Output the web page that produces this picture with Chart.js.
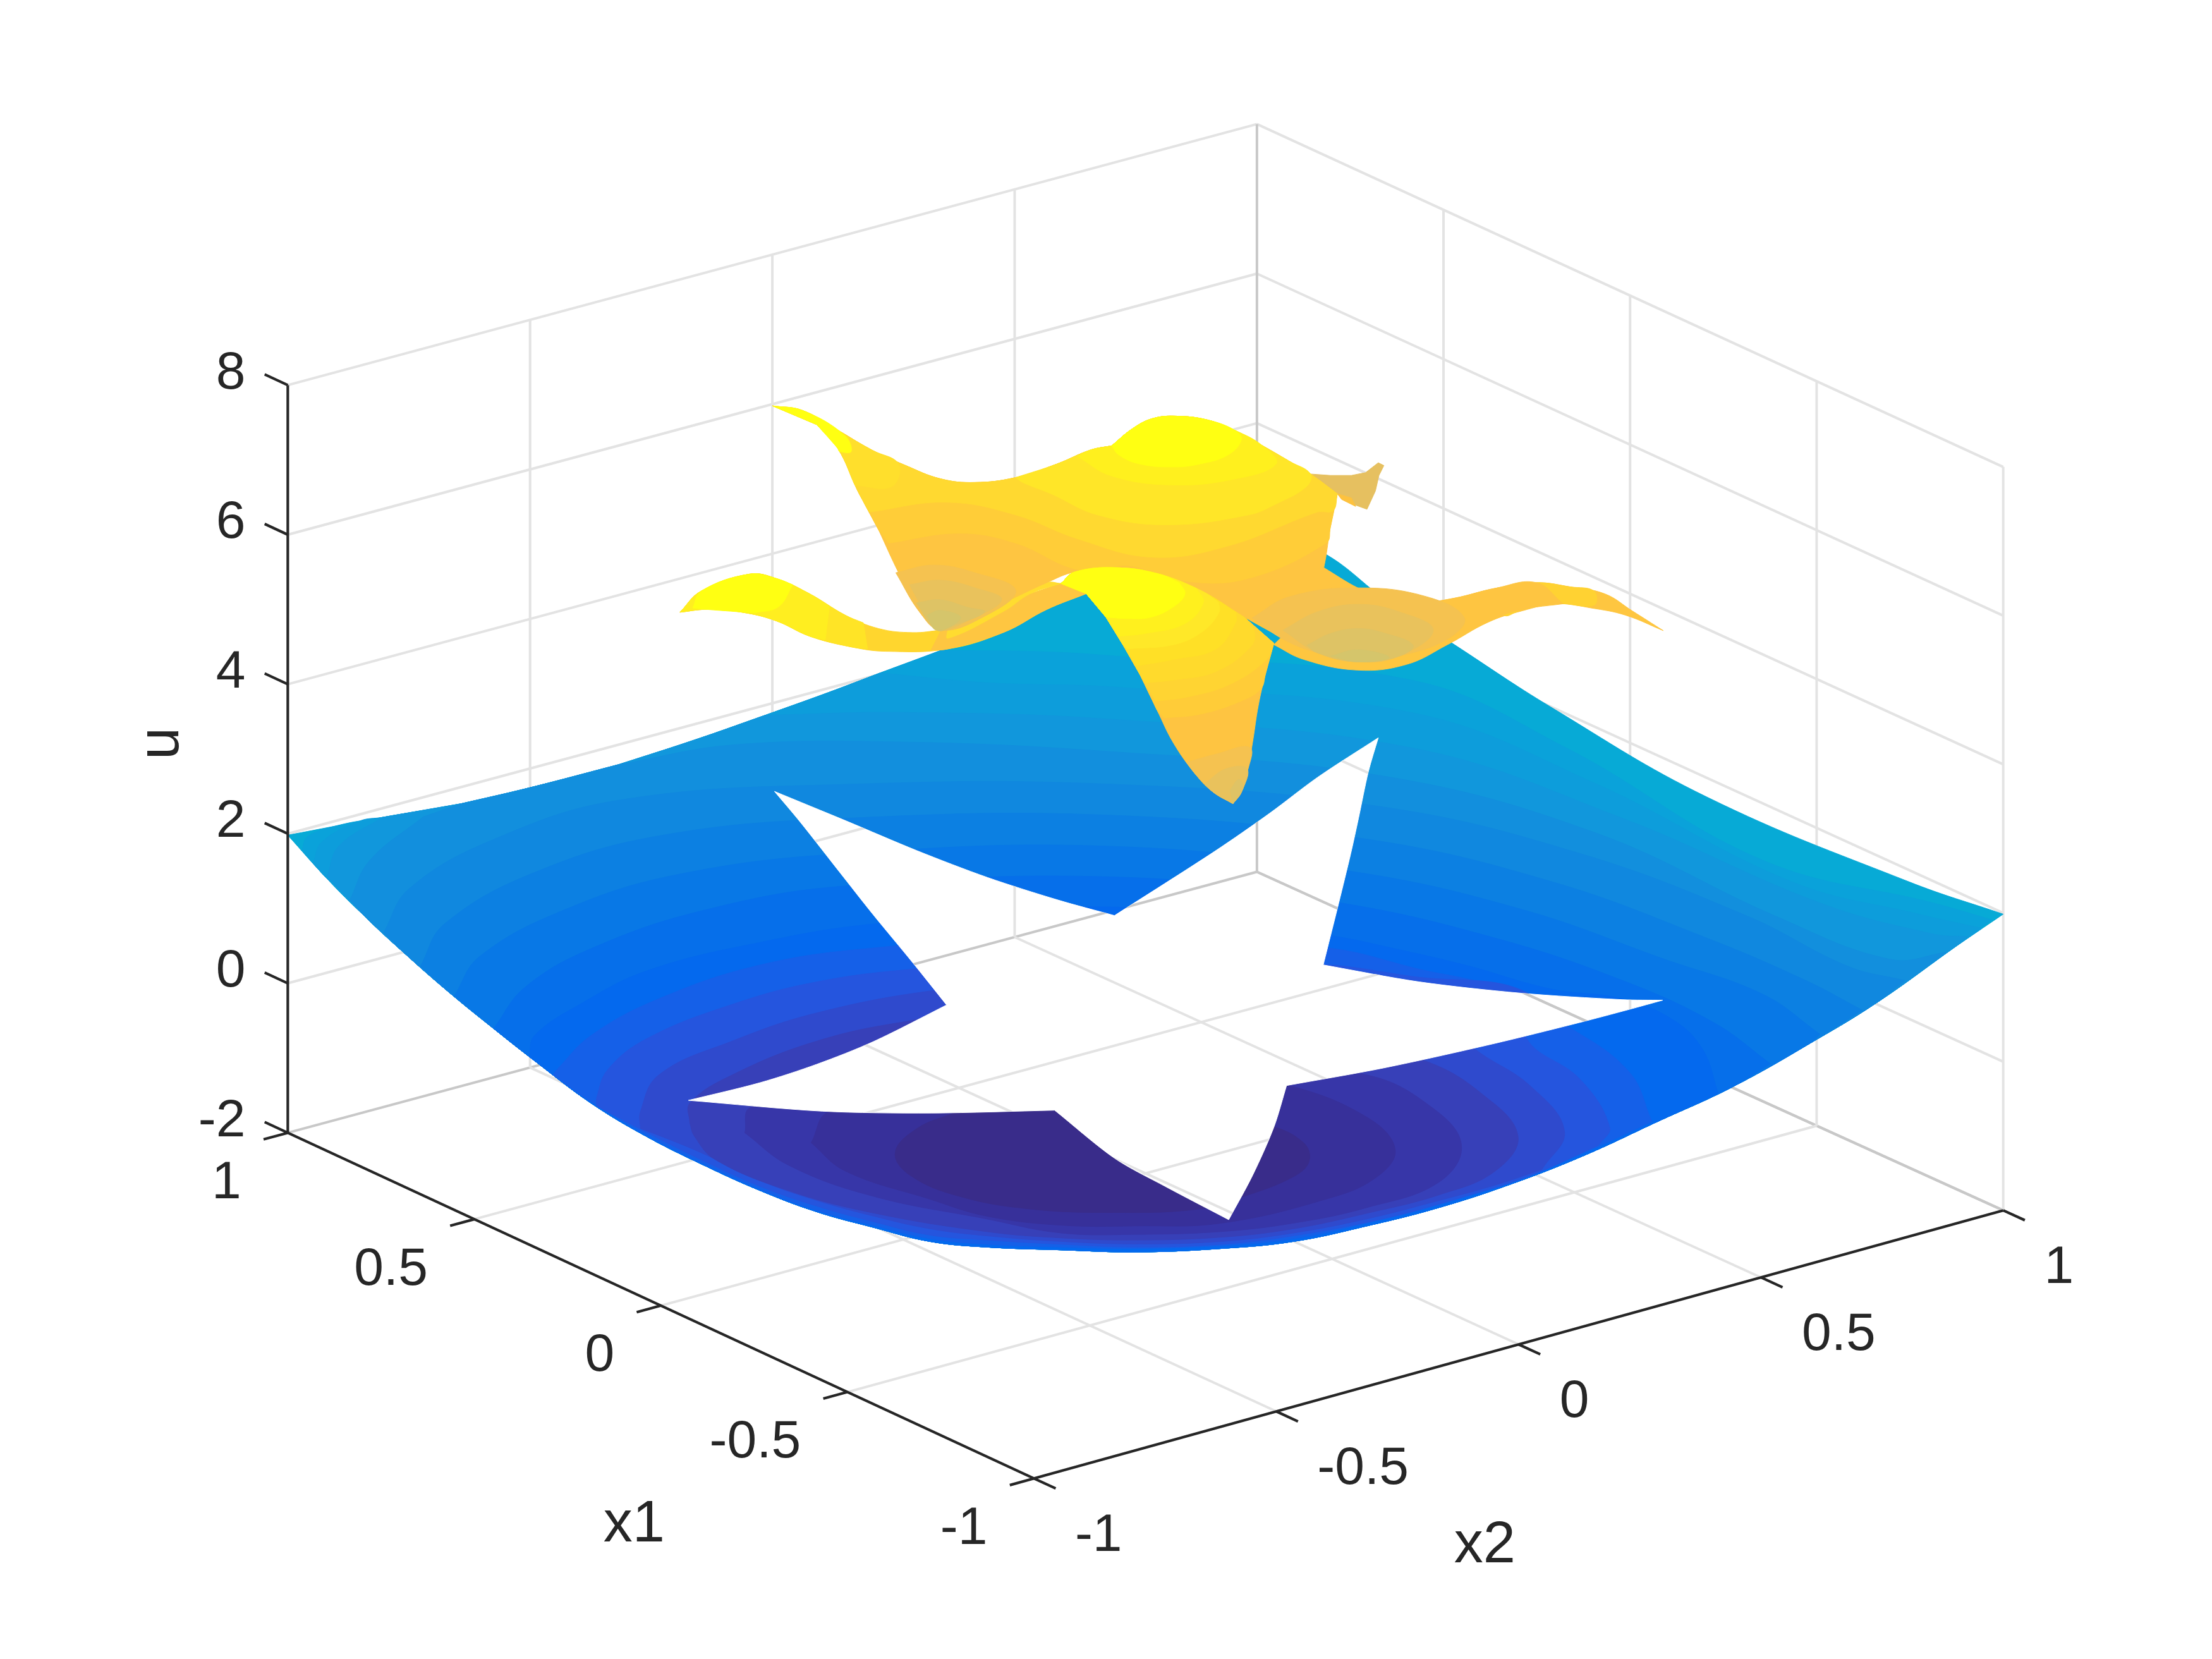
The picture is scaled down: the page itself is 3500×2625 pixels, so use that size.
<!DOCTYPE html>
<html><head><meta charset="utf-8">
<script src="https://cdn.jsdelivr.net/npm/chart.js@4/dist/chart.umd.js"></script>
<style>html,body{margin:0;padding:0;background:#fff}canvas{display:block}</style>
</head><body><canvas id="c" width="3500" height="2625"></canvas>
<script>
// ---------- axis ticks ----------
const x1Ticks=[1,0.5,0,-0.5,-1];
const x2Ticks=[-1,-0.5,0,0.5,1];
const uTicks=[-2,0,2,4,6,8];
const x1TickLabels=['1','0.5','0','-0.5','-1'];
const x2TickLabels=['-1','-0.5','0','0.5','1'];
const uTickLabels=['-2','0','2','4','6','8'];

// ---------- lower surface in the view plane ----------
const lowerRim=[[204,592],[231,622],[259,650],[287,676],[319,704],[351,730],[379,752],[419,782],[459,806],[499,826],[539,844],[579,859],[619,870],[659,880],[699,884],[752,886],[806,887.5],[866,885],[917,880],[969,869],[1020,856],[1072,839],[1123,819],[1175,795],[1227,771],[1284,739],[1330,711],[1382,674],[1420,648]];
const lowerBackEdge=[[1353,625],[1210,565],[1099,501],[1031,457],[982,425],[940,393],[880,365],[768,420],[667,461],[624,477],[587,491],[542.5,507],[494,524],[438.5,542],[375,558.5],[327,569.7],[271,579.4]];
const lowerOuterArcs=[
 [[214,603],[218,593],[240,585],[271,579.4],[327,569.7],[375,558.5],[438.5,542],[494,524],[542.5,507],[587,491],[624,477],[667,461],[740,462],[790,465],[1000,482],[1110,530],[1250,610],[1370,640],[1412,652]],
 [[222,612],[228,597],[255,582],[271,579.4],[327,569.7],[375,558.5],[438.5,542],[494,524],[542.5,507],[587,491],[624,477],[700,484],[790,487],[1000,505],[1130,555],[1270,625],[1360,648],[1405,658]],
 [[232,621],[240,600],[271,579.4],[327,569.7],[375,558.5],[438.5,542],[494,524],[542.5,507],[640,505],[790,510],[1000,530],[1150,580],[1290,640],[1370,662],[1395,664]],
 [[248,638],[262,610],[300,579],[327,569.7],[375,558.5],[438.5,542],[520,528],[640,526],[790,533],[980,550],[1130,590],[1260,650],[1340,680],[1380,675]],
 [[272,661],[290,630],[350,595],[440,567],[600,556],[790,556],[980,572],[1120,605],[1240,650],[1310,685],[1350,695]],
 [[298,685],[315,655],[380,618],[470,592],[600,580],[790,578],[970,595],[1100,625],[1210,665],[1280,695],[1320,716]],
 [[322,706],[340,678],[400,645],[480,620],[600,605],[790,600],[960,618],[1080,645],[1180,680],[1250,705],[1290,733]],
 [[350,729],[372,700],[420,672],[500,645],[600,628],[800,622],[950,640],[1060,665],[1150,695],[1215,725],[1255,754]],
 [[375,749],[379,734],[411,712],[459,688],[539,668],[619,655],[790,643],[942,663],[991,673],[1042,685],[1099,701],[1150,708],[1186,723],[1207,744],[1218,775]]
];
const lowerOuterColors=['#0aa2da','#0d9ddb','#1197dc','#128fdd','#1088df','#0c80e2','#0878e6','#066fea','#0469ee'];
const lowerOuterCorners=[[271,579.4],[667,461],[624,477],[542.5,507],[438.5,542],[300,579],[327,569.7]];
const lowerInnerRings=[
 [[392,762],[395,758],[419,734],[467,708],[539,684],[619,672],[790,660],[942,672],[1006,687],[1060,700],[1112,728],[1155,760],[1171,795],[1123,817],[1072,837],[1020,854],[969,867],[917,878],[866,883],[806,885],[752,884],[699,882],[659,878],[619,868.5],[579,858],[539,843],[499,825],[459,805],[419,781]],
 [[423,784],[423,778],[431,758],[459,736],[519,712],[579,696],[647,687],[790,677],[942,684],[1000,692],[1083,704],[1082,736],[1120,765],[1141,799],[1133,812],[1083,834],[1032,850],[980,864],[917,876],[866,882],[806,884],[752,882],[699,879],[659,875.5],[619,866],[579,855],[539,841],[499,823],[459,803]],
 [[454,800],[454,788],[467,762],[519,738],[579,718],[663,702],[790,690],[900,690],[1000,705],[1046,744],[1085,770],[1109,802],[1093,829],[1060,840],[1020,851],[969,864],[917,874],[866,880],[806,881.8],[752,880],[699,876],[659,871],[619,862],[579,851],[539,837],[499,818],[470,806]],
 [[489,796],[489,782],[519,762],[579,738],[643,724],[750,710],[900,720],[1010,752],[1050,775],[1076,805],[1060,830],[1020,847],[969,860],[917,871],[866,877],[806,879],[752,877.5],[699,873],[620,860],[559,844],[507,822],[492,805]],
 [[528,803],[532,785],[600,770],[760,760],[900,760],[969,762],[1015,785],[1036,812],[1020,838],[969,856],[917,867],[866,873],[806,875],[752,874],[699,864],[619,848],[559,826]],
 [[575,810],[588,788],[700,770],[850,760],[912,769],[969,792],[989,815],[975,835],[940,850],[866,867],[806,869],[752,868.5],[699,862],[659,850],[599,830]],
 [[676,789],[650,800],[634.6,817],[645,833],[680,848],[730,857],[789,859.5],[850,857],[882,848],[917,834],[928,823],[924,810],[900,798],[850,790],[760,780]]
];
const lowerInnerColors=['#1560e8','#2555de','#2f4acd','#3740b8','#3736a8','#37309a','#392c8a'];
const lowerInnerCorners=[[392,762],[1171,795],[423,784],[1133,812],[454,800],[1093,829]];
const starHole=[[549,561],[600,582],[650,603],[700,622],[750,638],[790,649],[861,603.5],[900,576.5],[934,551],[977,523],[970,547],[963,580],[957.5,605],[949,640],[941,672],[938,684],[1006,696],[1078,704],[1150,708.6],[1178.6,709],[1155,715.5],[1119,725],[1058,740],[981,757],[912,769.5],[903,799],[888,833],[871,864.6],[826,841],[790,821],[747.6,787],[660,789],[583,787.7],[488,780],[539,767.4],[579,754.4],[619,738.4],[671,712.4],[647,682.4],[619,648.4],[595,618],[567,582.4]];
const starTips=[[549,561],[790,649],[977,523],[938,684],[1178.6,709],[912,769.5],[871,864.6],[747.6,787],[488,780],[671,712.4]];

// ---------- upper surface in the view plane ----------
const upperTopEdge=[[547.6,287.7],[569,291],[594,305],[618,319],[642,330],[667,339.5],[691,342],[720,338.5],[749,329],[773,319],[788,316],[802.6,304],[817,296.7],[834,295],[856,297.7],[875,305],[895,316],[914,327],[929,336],[948,350]];
const upperLeftEdge=[[608,348],[594,318],[579,301]];
const upperFarCorner=[[929,336],[943,337],[958,337],[968,335],[977,328],[981,330],[977.5,337],[975,348],[969,361],[958,357],[951,353],[948,350]];
const upperFarSliver=[[948,350],[958,353],[961,359],[951,354]];
const upperWing=[[903,457],[924,467.4],[962,475],[997,471],[1026,457],[1055,441],[1079,433],[1104,428],[1128,431],[1152,436],[1179,447],[1157,433],[1137.7,421],[1113,416],[1089,413],[1060,417],[1031,424],[1002,428],[987,427],[940,420]];
const upperWingBright=[[1060,417],[1089,413],[1113,416],[1130,419],[1130,429],[1104,428],[1079,432],[1066,436]];
const upperArm=[[482,434],[497,419],[531,407],[550,410],[574,421],[599,436],[623,445.6],[647,448.4],[667,446.7],[691,438],[712,427.5],[752,413.6],[770,420.8],[742,432],[712,448],[672,460],[628,461.7],[603,458.5],[574,451],[550,440],[526,434],[501,432]];
const upperArmBands=[
 [[482,434],[497,419],[531,407],[550,410],[574,421],[599,436],[612,441.5],[615,460],[603,458.5],[574,451],[550,440],[526,434],[501,432]],
 [[482,434],[497,419],[531,407],[550,410],[574,421],[588,429.8],[585,453.5],[574,451],[550,440],[526,434],[501,432]],
 [[491,431],[497,419],[531,407],[550,410],[562,414.5],[552,430],[535,434.5],[501,432]],
 [[660,460.8],[667,447],[712,428],[752,413.6],[770,420.8],[742,432],[712,448],[672,460]],
 [[672,445],[712,427],[742,413],[752,413.6],[730,421],[712,433],[672,452.5]]
];
const upperArmColors=['#ffe426','#ffee20','#ffff12','#fec641','#ffdc30'];
const upperMainTail=[[943,374],[940,394],[938.4,402.4],[963,417],[987,427],[1002,428],[1031,424],[1060,417],[1089,413],[1108,428],[1079,432],[1060,438],[1021,455],[992,465],[963,469],[934,463],[910,452.5],[882,437.5],[852,419],[822,407],[792,402.4],[762,405.4],[742,413],[712,427],[672,445],[666,447],[652,434],[637,406],[623,376]];
const upperMainBandTails=[
 [[943,374],[940,385],[885,410],[840,412],[800,401],[765,404],[720,385],[680,378],[630,385],[623,376]],
 [[945,362],[933.7,363],[870.6,387],[817,395],[764,382],[720,365],[671,356],[616,363]]
];
const upperMainBandColors=['#ffcd38','#ffd930'];
const upperHumpRings=[
 [[720,338.5],[749,329],[773,319],[788,316],[802.6,304],[817,296.7],[834,295],[856,297.7],[875,305],[895,316],[914,327],[929,336],[926,345],[905,357],[885,365],[827,372],[778,365],[745,350],[725,342]],
 [[763.7,323.4],[773,319],[788,316],[802.6,304],[817,296.7],[834,295],[856,297.7],[875.4,305],[895,316],[904.6,328.8],[875.4,339.5],[831.7,343.8],[788,337.4]],
 [[788,316],[802.6,304],[817,296.7],[834,295],[856,297.7],[875.4,305],[880,311.7],[870.6,322.4],[851,328.8],[831.7,331],[807.4,328.8],[793,322.4]]
];
const upperHumpColors=['#ffe628','#fff01e','#ffff12'];
const upperCornerBands=[
 [[569,291],[618,319],[637,329],[632,345],[606,344],[594,318],[579,301]],
 [[547.6,287.7],[569,291],[598.6,308.4],[603.4,320],[595,320],[594,318],[579,301]]
];
const upperCornerColors=['#ffdf2c','#ffff12'];
const upperBasins=[
 [[635,406],[661.7,400.6],[691,406],[720,418.8],[695.7,438],[666.6,446.7],[652,434]],
 [[644.7,414.5],[666.6,411.3],[691,416.7],[710,425.2],[686,440],[666.6,446.7],[657,436]],
 [[649.6,427.4],[666.6,425.2],[686,430.6],[698,433.8],[676,443.4],[664,446.7]],
 [[657,436],[666.6,432.7],[681,438],[664,446.7]],
 [[887.6,438],[914,423],[963,416.7],[1011.4,423],[1038,438],[1026,453],[992,465],[963,469.2],[934,462.8],[909.4,453]],
 [[909.4,446.7],[933.7,433.8],[963,428.4],[992,433.8],[1016,446.7],[992,465],[963,469.2],[934,462.8]],
 [[926.4,457.4],[943.4,449],[963,445.6],[982,449],[1001.7,457.4],[992,465],[963,469.2],[934,462.8]],
 [[943.4,465],[963,460.6],[984.7,466],[963,469.2]]
];
const upperBasinColors=['#f5c250','#e9c25c','#dec365','#d5c56b','#f5c250','#e9c25c','#dec365','#d5c56b'];
const upperSpikeCrest=[[770,420.8],[752,413.6],[762,405.4],[792,402.4],[822,407]];
const upperSpikeRest=[[852,419],[882,437.5],[903,456],[897,478],[892,500],[888,525.6],[884,548],[880,561.5],[874,569.7],[860,561.5],[848,549.5],[832,527],[820,503],[808,478],[796,457],[784,437.5]];
const upperSpikeTips=[
 [[841,540.5],[862,534.6],[886,530],[884,548],[880,561.5],[874,569.7],[860,561.5],[848,549.5]],
 [[854,555.5],[869,545],[884,545],[880,561.5],[874,569.7],[860,561.5]],
 [[872,560],[878,552.5],[881,558],[874,569.7]]
];
const upperSpikeTipColors=['#f5c250','#e9c25c','#dfc365'];
const upperSpikeBandTails=[
 [[852,419],[882,437.5],[903,456],[897,478],[894,488],[882,496],[852,506],[825,509],[820,503],[808,478],[796,457],[784,437.5]],
 [[852,419],[882,437.5],[903,456],[898,467.4],[872,485],[842,494],[819,497],[808,478],[796,457],[784,437.5]],
 [[852,419],[882,437.5],[889,447],[887,458],[862,476],[832,482],[812,484],[808,478],[796,457],[784,437.5]],
 [[852,419],[876,434],[876,441],[862,460],[832,467.4],[806,472],[796,457],[784,437.5]],
 [[852,419],[864,427],[864,434.5],[852,448],[832,457],[799,460],[796,457],[784,437.5]],
 [[848,417],[853,427],[840,442],[812,449],[793,451],[784,437.5]],
 [[836,413],[840,421],[832,430],[816,437.5],[800,438.5],[784,437.5]]
];
const upperSpikeBandColors=['#ffcc38','#ffd432','#ffda2c','#ffe026','#ffe828','#fff01e','#ffff12'];
const upperCorners=[[547.6,287.7],[579,301],[977,328],[948,350],[938.4,402.4],[1179,447],[874,569.7],[903,456],[770,420.8],[752,413.6],[784,437.5],[796,457],[808,478],[820,503],[482,434],[667,447],[667,446.7],[666,447],[672,445],[788,316],[1108,428],[903,457],[940,420],[616,363],[623,376],[630,385],[606,344],[608,348],[841,540.5],[854,555.5],[872,560],[882,437.5],[876,434],[864,427],[848,417],[836,413],[825,509],[819,497],[812,484],[806,472],[799,460],[793,451],[588,429.8],[612,441.5],[585,453.5],[615,460],[562,414.5],[535,434.5],[491,431]];

// ---------- view of the box (orthographic, corners) ----------
const viewW=1568, viewH=1176;
function project(x1,x2,u){
  return {x:812-264.5*x1+343.5*x2,
          y:831.75-121.25*x1-93.75*x2+1.25*x1*x2-(53-0.075*(1-x1)*(1+x2))*(u+2)};
}
const pts=a=>a.map(p=>({x:p[0],y:p[1]}));
const closed=a=>{const o=pts(a);o.push(o[0]);return o;};
const layers=[];
function addLine(name,a,b,color,width,extra){
  layers.push(Object.assign({label:name,data:[a,b],borderColor:color,borderWidth:width,showLine:true,pointRadius:0,fill:false},extra||{}));
}
function keepCorners(poly,corners){
  const out=[];
  poly.forEach(p=>{out.push(p);if(corners.some(c=>c[0]===p[0]&&c[1]===p[1]))out.push(p);});
  return out;
}
function addShape(name,poly,color,tension,corners){
  const shaped=corners?keepCorners(poly,corners):poly;
  layers.push({label:name,data:closed(shaped),showLine:true,pointRadius:0,fill:'shape',backgroundColor:color,borderColor:color,borderWidth:1,tension:tension});
}
function ringFromArc(arc){
  const a=arc[0][0], b=arc[arc.length-1][0];
  return arc.concat(lowerRim.filter(p=>p[0]>a&&p[0]<b).reverse());
}

const gridColor='#e3e3e3', boxColor='#c8c8c8', axisColor='#262626';
function addGrid(extra,tag){
  const gw=4;
  uTicks.forEach(u=>{
    const c=u===-2?boxColor:gridColor;
    addLine(tag+'wall1 u='+u,project(1,-1,u),project(1,1,u),c,gw,extra);
    addLine(tag+'wall2 u='+u,project(1,1,u),project(-1,1,u),c,gw,extra);
  });
  x2Ticks.slice(1).forEach(t=>{
    addLine(tag+'wall1 x2='+t,project(1,t,-2),project(1,t,8),t===1?boxColor:gridColor,gw,extra);
    addLine(tag+'floor x2='+t,project(-1,t,-2),project(1,t,-2),t===1?boxColor:gridColor,gw,extra);
  });
  x1Ticks.slice(1).forEach(t=>{
    addLine(tag+'wall2 x1='+t,project(t,1,-2),project(t,1,8),gridColor,gw,extra);
    addLine(tag+'floor x1='+t,project(t,-1,-2),project(t,1,-2),gridColor,gw,extra);
  });
}
addGrid({}, 'grid ');

// lower surface
addShape('lower base',lowerRim.concat(lowerBackEdge),'#07aad6',0.4,[[204,592],[1420,648],[880,365]]);
lowerOuterArcs.forEach((arc,i)=>addShape('lower outer '+i,ringFromArc(arc),lowerOuterColors[i],0.4,lowerOuterCorners.concat([arc[0],arc[arc.length-1]])));
lowerInnerRings.forEach((r,i)=>addShape('lower inner '+i,r,lowerInnerColors[i],0.4,lowerInnerCorners));
addShape('hole',starHole,'#ffffff',0.3,starTips);
addGrid({starClip:true},'hole grid ');

// upper surface
addShape('far corner',upperFarCorner,'#e6c060',0);
addShape('far sliver',upperFarSliver,'#fdc23f',0);
addShape('wing',upperWing,'#fec640',0.4,upperCorners);
addShape('wing bright',upperWingBright,'#ffd232',0.4);
addShape('arm',upperArm,'#ffd62e',0.4,upperCorners);
upperArmBands.forEach((b,i)=>addShape('arm '+i,b,upperArmColors[i],0.4,upperCorners));
addShape('main',upperTopEdge.concat(upperMainTail,upperLeftEdge),'#fec541',0.4,upperCorners);
upperMainBandTails.forEach((t,i)=>addShape('main band '+i,upperTopEdge.concat(t,upperLeftEdge),upperMainBandColors[i],0.4,upperCorners));
upperHumpRings.forEach((r,i)=>addShape('hump '+i,r,upperHumpColors[i],0.4,upperCorners));
upperCornerBands.forEach((r,i)=>addShape('corner '+i,r,upperCornerColors[i],0.4,upperCorners));
upperBasins.forEach((r,i)=>addShape('basin '+i,r,upperBasinColors[i],0.4));
addShape('spike',upperSpikeCrest.concat(upperSpikeRest),'#fec441',0.4,upperCorners);
upperSpikeTips.forEach((r,i)=>addShape('spike tip '+i,r,upperSpikeTipColors[i],0.4,upperCorners));
upperSpikeBandTails.forEach((t,i)=>addShape('spike band '+i,upperSpikeCrest.concat(t),upperSpikeBandColors[i],0.4,upperCorners));

// axes and ticks
const axW=4.2;
addLine('u axis',project(1,-1,-2),project(1,-1,8),axisColor,axW);
addLine('x1 axis',project(1,-1,-2),project(-1,-1,-2),axisColor,axW);
addLine('x2 axis',project(-1,-1,-2),project(-1,1,-2),axisColor,axW);
uTicks.forEach(t=>addLine('u tick',project(1,-1,t),project(1.062,-1,t),axisColor,axW));
x1Ticks.forEach(t=>addLine('x1 tick',project(t,-1,-2),project(t,-1.05,-2),axisColor,axW));
x2Ticks.forEach(t=>addLine('x2 tick',project(-1,t,-2),project(-1.058,t,-2),axisColor,axW));

const font=84, fontName='"Liberation Sans", Arial, sans-serif';
const boxPlugin={
  id:'boxExtras',
  beforeDatasetDraw(chart,args){
    const ds=chart.data.datasets[args.index];
    if(!ds.starClip) return;
    const {ctx,scales:{x,y}}=chart;
    ctx.save();ctx.beginPath();
    starHole.forEach((p,i)=>{const a=x.getPixelForValue(p[0]),b=y.getPixelForValue(p[1]);i?ctx.lineTo(a,b):ctx.moveTo(a,b);});
    ctx.closePath();ctx.clip();
  },
  afterDatasetDraw(chart,args){
    if(chart.data.datasets[args.index].starClip) chart.ctx.restore();
  },
  afterDraw(chart){
    const {ctx,scales:{x,y}}=chart;
    const put=(s,h,v,al,sz)=>{ctx.font=sz+'px '+fontName;ctx.textAlign=al;ctx.textBaseline='middle';ctx.fillStyle=axisColor;ctx.fillText(s,x.getPixelForValue(h),y.getPixelForValue(v));};
    ctx.save();
    uTicks.forEach((t,i)=>{const p=project(1,-1,t);put(uTickLabels[i],p.x-30,p.y-8,'right',font);});
    x1Ticks.forEach((t,i)=>{const p=project(t,-1,-2);put(x1TickLabels[i],p.x-33,p.y+36,'right',font);});
    x2Ticks.forEach((t,i)=>{const p=project(-1,t,-2);put(x2TickLabels[i],p.x+29,p.y+41,'left',font);});
    const a=project(0,-1,-2), b=project(-1,0,-2);
    put('x1',a.x-19,a.y+156,'center',92);
    put('x2',b.x-24,b.y+143,'center',92);
    const ul=project(1,-1,3);
    ctx.translate(x.getPixelForValue(ul.x-89),y.getPixelForValue(ul.y-11));
    ctx.rotate(-Math.PI/2);
    ctx.font='92px '+fontName;ctx.textAlign='center';ctx.textBaseline='middle';ctx.fillStyle=axisColor;
    ctx.fillText('u',0,0);
    ctx.restore();
  }
};

new Chart(document.getElementById('c').getContext('2d'),{
  type:'scatter',
  data:{datasets:layers.slice().reverse()},
  options:{
    responsive:false,animation:false,
    layout:{padding:0},
    scales:{
      x:{type:'linear',min:0,max:viewW,display:false},
      y:{type:'linear',min:0,max:viewH,reverse:true,display:false}
    },
    plugins:{legend:{display:false},tooltip:{enabled:false},filler:{drawTime:'beforeDatasetDraw',propagate:false}},
    elements:{point:{radius:0}},
    events:[]
  },
  plugins:[{id:'whiteBg',beforeDraw(c){c.ctx.save();c.ctx.fillStyle='#fff';c.ctx.fillRect(0,0,c.width,c.height);c.ctx.restore();}},boxPlugin]
});
</script></body></html>
